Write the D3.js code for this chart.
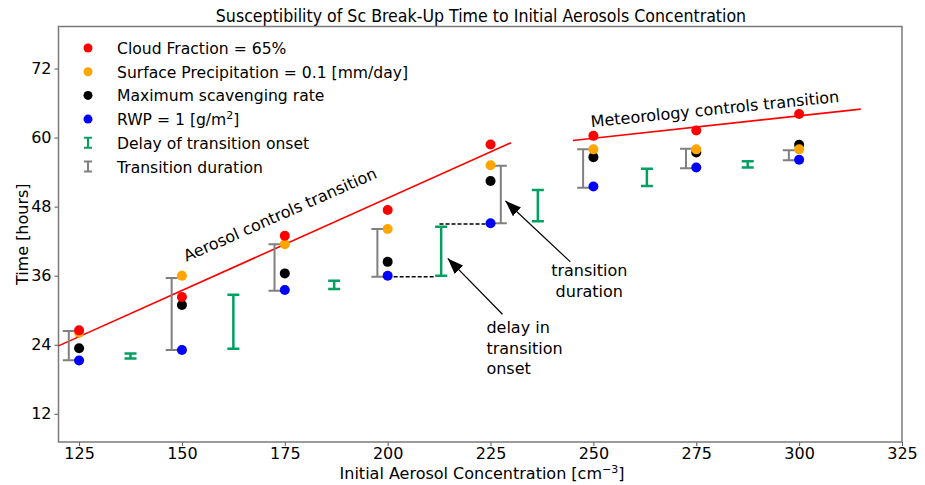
<!DOCTYPE html>
<html>
<head>
<meta charset="utf-8">
<script src="https://cdn.jsdelivr.net/npm/d3@7"></script>
<style>
  body { margin: 0; background: #fff; }
  svg { display: block; }
</style>
</head>
<body>
<div id="chart"></div>
<script>
// aerosol concentrations [cm^-3]
const conc = [125, 150, 175, 200, 225, 250, 275, 300];
// break-up times [hours]
const cloudFraction = [26.5, 32.3, 42.95, 47.4, 58.8, 60.3, 61.25, 64.1];
const surfPrecip = [26.1, 36.0, 41.45, 44.1, 55.2, 57.95, 57.95, 57.95];
const maxScav = [23.4, 30.9, 36.4, 38.4, 52.45, 56.6, 57.4, 58.75];
const rwp = [21.25, 23.1, 33.5, 36.0, 45.1, 51.5, 54.8, 56.15];

// transition duration bars (gray)
const durX = [122.5, 147.5, 172.5, 197.5, 227.5, 247.5, 272.5, 297.5];
const durLow = [21.3, 23.1, 33.4, 35.8, 45.1, 51.3, 54.65, 56.05];
const durHigh = [26.4, 35.6, 41.45, 44.1, 55.1, 57.95, 58.05, 57.8];

// delay of transition onset bars (green)
const delayX = [137.5, 162.5, 187, 213, 236.5, 263, 287.5];
const delayLow = [21.6, 23.3, 33.7, 36.0, 45.45, 51.6, 54.8];
const delayHigh = [22.5, 32.7, 35.1, 44.5, 50.9, 54.6, 55.9];

// regime lines
const aerosolLine = [[120, 23.8], [230, 59.1]];
const meteoLine = [[245, 59.5], [315, 64.95]];

// dashed guides
const dashLines = [
  [[200, 35.8], [211.5, 35.8]],
  [[212.6, 45.0], [225, 45.0]]
];

const xTicks = [125, 150, 175, 200, 225, 250, 275, 300, 325];
const yTicks = [12, 24, 36, 48, 60, 72];

const W = 925, H = 485;
const plotL = 58.5, plotR = 902, plotT = 26.5, plotB = 442;

const x = d3.scaleLinear().domain([120, 325]).range([plotL, plotR]);
const y = d3.scaleLinear().domain([7.1, 79.3]).range([plotB, plotT]);

const svg = d3.select("#chart").append("svg")
  .attr("width", W)
  .attr("height", H);

const sans = "'DejaVu Sans', sans-serif";
const green = "#00a060";
const gray = "#808080";

svg.append("defs").append("marker")
  .attr("id", "head")
  .attr("markerUnits", "userSpaceOnUse")
  .attr("viewBox", "0 0 16 12")
  .attr("refX", 16).attr("refY", 6)
  .attr("markerWidth", 16).attr("markerHeight", 12)
  .attr("orient", "auto")
  .append("path")
  .attr("d", "M0,0 L16,6 L0,12 Z")
  .attr("fill", "#000");

// title
svg.append("text")
  .attr("x", 481).attr("y", 22)
  .attr("text-anchor", "middle")
  .style("font-family", "'DejaVu Sans Condensed', 'DejaVu Sans', sans-serif")
  .style("font-stretch", "condensed")
  .style("font-size", "17.6px")
  .text("Susceptibility of Sc Break-Up Time to Initial Aerosols Concentration");

// axes
const xAxis = svg.append("g")
  .attr("transform", `translate(0,${plotB})`)
  .call(d3.axisBottom(x).tickValues(xTicks).tickSize(4).tickPadding(2));
const yAxis = svg.append("g")
  .attr("transform", `translate(${plotL},0)`)
  .call(d3.axisLeft(y).tickValues(yTicks).tickSize(4).tickPadding(3));

[xAxis, yAxis].forEach(g => {
  g.select(".domain").remove();
  g.selectAll(".tick line").attr("stroke", "#555").attr("stroke-width", 1);
  g.selectAll(".tick text")
    .attr("fill", "#000")
    .style("font-family", sans)
    .style("font-size", "16px");
});

// frame
svg.append("rect")
  .attr("x", plotL).attr("y", plotT)
  .attr("width", plotR - plotL).attr("height", plotB - plotT)
  .attr("fill", "none")
  .attr("stroke", "#7a7a7a")
  .attr("stroke-width", 1.5);

// axis labels
const xl = svg.append("text")
  .attr("x", 482).attr("y", 479)
  .attr("text-anchor", "middle")
  .style("font-family", sans).style("font-size", "16px")
  .text("Initial Aerosol Concentration [cm");
xl.append("tspan").attr("dy", -6).style("font-size", "11px").text("\u22123");
xl.append("tspan").attr("dy", 6).text("]");

svg.append("text")
  .attr("transform", `translate(28,${(plotT + plotB) / 2}) rotate(-90)`)
  .attr("text-anchor", "middle")
  .style("font-family", sans).style("font-size", "16px")
  .text("Time [hours]");

const line = d3.line().x(d => x(d[0])).y(d => y(d[1]));

// regime lines
svg.append("g").selectAll("path")
  .data([aerosolLine, meteoLine])
  .join("path")
  .attr("d", line)
  .attr("fill", "none")
  .attr("stroke", "#ff0000")
  .attr("stroke-width", 1.6);

// error bars
function bars(xs, lo, hi, color, sw) {
  const g = svg.append("g").attr("stroke", color).attr("stroke-width", sw).attr("fill", "none");
  const data = xs.map((v, i) => ({x: v, lo: lo[i], hi: hi[i]}));
  g.selectAll("path")
    .data(data)
    .join("path")
    .attr("d", d => {
      const cx = x(d.x), y0 = y(d.lo), y1 = y(d.hi);
      return `M${cx},${y0}V${y1}M${cx - 6},${y0}H${cx + 6}M${cx - 6},${y1}H${cx + 6}`;
    });
}
bars(durX, durLow, durHigh, gray, 2);
bars(delayX, delayLow, delayHigh, green, 2.5);

// dashed guides
svg.append("g").selectAll("path")
  .data(dashLines)
  .join("path")
  .attr("d", line)
  .attr("stroke", "#000")
  .attr("stroke-width", 1.5)
  .attr("stroke-dasharray", "4,2");

// points
const series = [
  {name: "RWP", values: rwp, color: "#0000ff"},
  {name: "scav", values: maxScav, color: "#000000"},
  {name: "precip", values: surfPrecip, color: "#ffa500"},
  {name: "cf", values: cloudFraction, color: "#ff0000"}
];
series.forEach(s => {
  svg.append("g").selectAll("circle")
    .data(conc)
    .join("circle")
    .attr("cx", d => x(d))
    .attr("cy", (d, i) => y(s.values[i]))
    .attr("r", 5)
    .attr("fill", s.color);
});

// annotations
function rotText(px, py, angle, str) {
  svg.append("text")
    .attr("transform", `translate(${x(px)},${y(py)}) rotate(${angle})`)
    .style("font-family", sans).style("font-size", "16px")
    .text(str);
}
rotText(151.1, 38.4, -23.8, "Aerosol controls transition");
rotText(249.5, 61.8, -5.8, "Meteorology controls transition");

function multiText(px, py, anchor, lines) {
  const t = svg.append("text")
    .attr("x", x(px)).attr("y", y(py))
    .attr("text-anchor", anchor)
    .style("font-family", sans).style("font-size", "16px");
  lines.forEach((l, i) => {
    t.append("tspan").attr("x", x(px)).attr("dy", i === 0 ? 0 : 20.5).text(l);
  });
}
multiText(249, 35.9, "middle", ["transition", "duration"]);
multiText(224, 26.0, "start", ["delay in", "transition", "onset"]);

const arrows = [
  [[227.9, 29.3], [214.6, 39.0]],
  [[244.4, 38.4], [228.6, 49.0]]
];
svg.append("g").selectAll("path")
  .data(arrows)
  .join("path")
  .attr("d", line)
  .attr("stroke", "#000")
  .attr("stroke-width", 1.2)
  .attr("marker-end", "url(#head)");

// legend
const legendItems = [
  {type: "dot", color: "#ff0000", label: "Cloud Fraction = 65%"},
  {type: "dot", color: "#ffa500", label: "Surface Precipitation = 0.1 [mm/day]"},
  {type: "dot", color: "#000000", label: "Maximum scavenging rate"},
  {type: "dot", color: "#0000ff", label: "RWP = 1 [g/m", sup: "2", tail: "]"},
  {type: "bar", color: green, label: "Delay of transition onset"},
  {type: "bar", color: gray, label: "Transition duration"}
];
const lg = svg.append("g").attr("transform", "translate(88,48)");
legendItems.forEach((d, i) => {
  const row = lg.append("g").attr("transform", `translate(0,${i * 23.7})`);
  if (d.type === "dot") {
    row.append("circle").attr("r", 4.5).attr("fill", d.color);
  } else {
    row.append("path")
      .attr("d", "M0,-5V5M-4,-5H4M-4,5H4")
      .attr("stroke", d.color)
      .attr("stroke-width", 2)
      .attr("fill", "none");
  }
  const t = row.append("text")
    .attr("x", 29).attr("y", 6)
    .style("font-family", sans).style("font-size", "15.6px")
    .text(d.label);
  if (d.sup) {
    t.append("tspan").attr("dy", -6).style("font-size", "11px").text(d.sup);
    t.append("tspan").attr("dy", 6).text(d.tail);
  }
});
</script>
</body>
</html>
